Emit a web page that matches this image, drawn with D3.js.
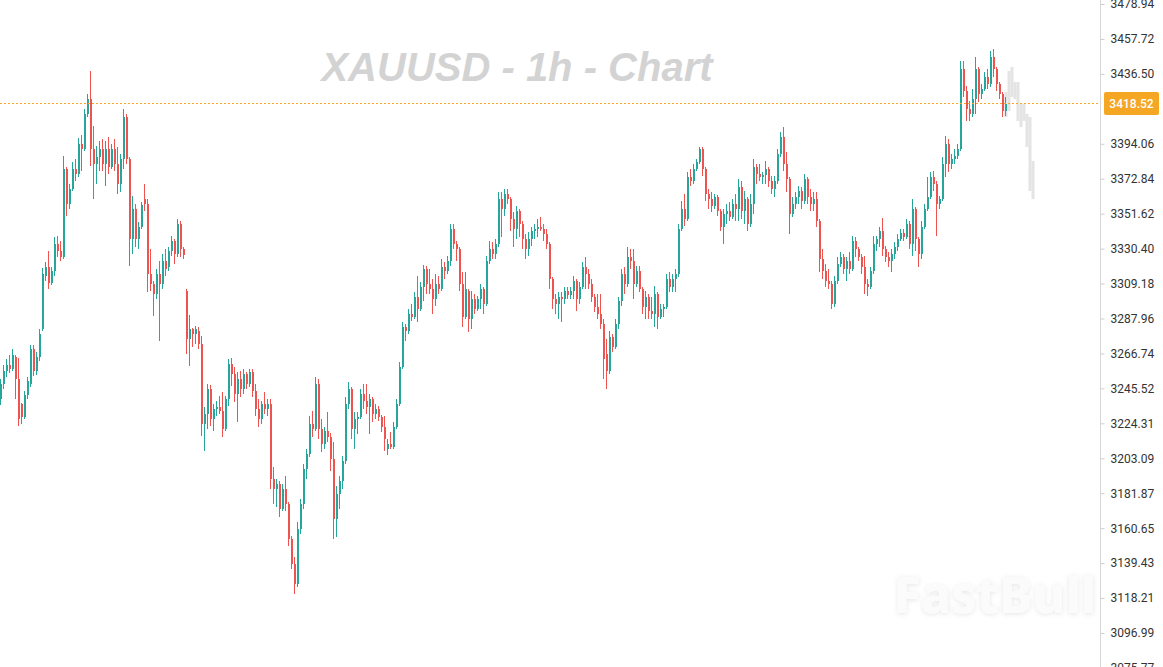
<!DOCTYPE html>
<html><head><meta charset="utf-8">
<script src="https://cdn.jsdelivr.net/npm/d3@7"></script>
<style>html,body{margin:0;padding:0;background:#fff;overflow:hidden}</style>
</head><body>
<svg id="chart" width="1163" height="667"></svg>
<script>
const openP = [3239.0,3248.2,3256.1,3259.7,3257.3,3264.5,3251.2,3236.0,3228.1,3241.5,
3248.2,3269.4,3256.1,3264.5,3281.6,3313.7,3319.2,3309.5,3316.8,3333.2,
3328.9,3325.2,3378.7,3357.5,3366.6,3378.7,3375.7,3394.0,3390.9,3412.2,
3421.2,3390.9,3381.8,3386.0,3390.9,3381.8,3390.9,3379.9,3390.9,3381.8,
3369.7,3384.8,3410.3,3384.8,3336.2,3354.4,3336.2,3343.5,3360.5,3357.5,
3315.0,3308.9,3302.9,3315.0,3308.9,3322.9,3319.2,3328.9,3335.0,3327.1,
3345.4,3330.1,3304.7,3275.5,3281.6,3278.6,3280.4,3272.5,3223.9,3230.0,
3245.1,3226.9,3233.0,3234.2,3231.8,3220.8,3239.0,3260.3,3254.3,3242.1,
3251.2,3245.1,3254.3,3248.2,3255.5,3243.9,3233.0,3226.9,3236.0,3233.0,
3236.0,3190.5,3184.4,3187.5,3172.2,3184.4,3175.3,3154.0,3138.9,3126.7,
3160.1,3175.3,3196.5,3205.7,3223.9,3220.8,3248.2,3220.8,3211.8,3219.6,
3215.9,3202.6,3166.2,3181.4,3189.3,3201.4,3236.0,3245.1,3220.8,3226.9,
3228.1,3242.1,3237.8,3234.2,3239.0,3230.0,3233.0,3228.1,3222.0,3208.7,
3211.8,3209.9,3222.0,3236.0,3258.5,3282.8,3280.4,3290.7,3288.8,3301.0,
3293.7,3307.1,3318.0,3308.9,3305.9,3299.8,3308.9,3305.9,3319.2,3316.8,
3322.9,3342.3,3333.2,3330.1,3308.9,3288.8,3304.7,3287.6,3299.8,3293.7,
3299.8,3305.9,3296.8,3322.9,3330.1,3327.1,3333.2,3360.5,3354.4,3363.6,
3360.5,3348.4,3342.3,3353.2,3345.4,3336.2,3330.1,3336.2,3341.1,3342.3,
3343.5,3342.3,3339.2,3333.2,3311.9,3299.8,3296.8,3301.0,3299.8,3304.7,
3302.3,3304.7,3310.7,3299.8,3307.1,3319.2,3315.0,3308.9,3301.0,3294.9,
3290.7,3284.6,3266.4,3256.1,3276.7,3270.6,3284.6,3298.6,3315.0,3308.9,
3325.2,3322.9,3308.9,3316.8,3305.9,3294.9,3301.0,3292.5,3290.7,3302.9,
3288.8,3293.7,3294.9,3311.9,3307.1,3311.9,3315.0,3342.3,3354.4,3348.4,
3373.9,3371.5,3378.7,3383.0,3390.9,3378.7,3363.6,3360.5,3356.3,3361.7,
3353.2,3343.5,3351.4,3353.2,3349.6,3357.5,3354.4,3367.8,3353.2,3360.5,
3345.4,3357.5,3379.9,3375.7,3373.9,3375.1,3378.7,3371.5,3366.6,3371.5,
3387.9,3398.2,3381.8,3372.7,3351.4,3357.5,3361.7,3365.4,3359.3,3372.7,
3361.7,3357.5,3360.5,3347.2,3324.1,3316.8,3310.7,3308.9,3296.8,3310.7,
3321.0,3325.2,3318.0,3322.9,3318.0,3335.0,3330.1,3325.2,3319.2,3308.9,
3307.1,3316.8,3333.2,3336.2,3341.1,3330.1,3325.2,3322.9,3327.1,3331.3,
3336.2,3339.9,3337.4,3345.4,3333.2,3354.4,3336.2,3327.1,3343.5,3354.4,
3361.7,3373.9,3369.7,3357.5,3360.5,3381.8,3394.0,3381.8,3384.8,3386.6,
3390.9,3439.5,3426.1,3415.2,3412.2,3421.2,3439.5,3424.3,3427.3,3434.6,
3430.4,3446.8,3439.5,3430.4,3424.3,3414.0];

const highP = [3251.2,3259.7,3263.3,3265.8,3269.4,3265.8,3263.9,3236.6,3243.9,3252.4,
3271.9,3271.9,3267.6,3281.6,3318.6,3322.3,3328.9,3319.2,3337.4,3338.0,
3335.0,3386.6,3379.9,3369.7,3383.0,3384.8,3397.5,3399.4,3415.2,3424.3,
3438.3,3404.8,3392.7,3395.8,3397.0,3395.8,3398.1,3394.0,3397.0,3392.1,
3387.9,3415.2,3412.2,3386.0,3362.3,3357.5,3346.6,3358.7,3369.7,3360.5,
3330.1,3310.7,3318.0,3322.9,3327.1,3330.1,3331.3,3338.0,3336.2,3348.4,
3347.2,3331.3,3305.9,3290.1,3282.2,3283.4,3282.8,3277.3,3234.2,3248.2,
3247.6,3236.0,3237.8,3240.9,3243.3,3240.9,3263.3,3264.0,3258.5,3255.5,
3256.1,3257.3,3255.5,3257.3,3257.3,3248.2,3239.0,3237.8,3243.3,3239.0,
3239.0,3197.7,3190.5,3189.3,3187.5,3192.3,3176.5,3155.8,3143.1,3164.4,
3178.3,3199.6,3208.7,3228.7,3231.8,3252.4,3251.2,3226.9,3222.0,3231.2,
3218.4,3213.0,3186.2,3192.3,3204.4,3240.2,3249.4,3246.3,3231.2,3231.2,
3245.1,3248.2,3248.2,3242.1,3240.2,3236.0,3234.8,3229.4,3228.7,3214.8,
3219.0,3225.1,3239.0,3261.5,3285.8,3284.6,3293.7,3296.8,3304.1,3313.7,
3310.1,3320.4,3319.8,3318.0,3311.9,3315.0,3313.7,3324.1,3322.3,3325.9,
3345.4,3345.4,3335.0,3331.3,3316.2,3316.2,3305.9,3304.7,3302.9,3301.6,
3308.9,3307.1,3325.9,3335.0,3334.4,3336.2,3364.8,3364.8,3366.6,3366.6,
3361.7,3352.6,3356.3,3354.4,3347.2,3339.2,3340.5,3343.5,3345.4,3348.4,
3349.6,3345.4,3342.3,3334.4,3313.1,3302.9,3304.1,3304.1,3307.1,3307.1,
3307.1,3313.7,3311.9,3310.1,3322.3,3325.2,3318.0,3311.9,3302.9,3302.9,
3302.9,3287.6,3275.5,3280.4,3278.6,3287.6,3301.0,3318.0,3319.2,3331.3,
3330.1,3330.1,3319.8,3319.8,3307.1,3304.7,3302.9,3301.0,3307.7,3304.1,
3296.8,3296.8,3315.0,3316.2,3315.0,3318.0,3345.4,3359.3,3363.6,3376.9,
3378.7,3381.8,3384.8,3392.1,3392.1,3379.9,3366.6,3364.8,3363.6,3362.9,
3354.4,3354.4,3357.5,3358.7,3360.5,3363.6,3372.7,3371.5,3365.4,3361.7,
3363.6,3384.8,3381.8,3381.8,3376.9,3383.6,3379.9,3374.5,3374.5,3390.9,
3401.2,3404.2,3389.1,3373.9,3361.7,3364.8,3368.5,3367.8,3375.7,3373.9,
3366.6,3364.8,3364.8,3348.4,3330.1,3321.0,3318.0,3310.7,3313.7,3325.2,
3328.3,3327.1,3325.2,3328.3,3338.0,3337.4,3331.3,3327.1,3325.9,3311.9,
3319.2,3338.0,3338.0,3343.5,3349.0,3332.0,3328.3,3330.1,3334.4,3339.2,
3342.3,3342.3,3348.4,3347.2,3360.5,3355.6,3337.4,3347.2,3357.5,3373.9,
3376.9,3377.5,3371.5,3362.3,3386.0,3398.8,3397.0,3387.9,3390.9,3394.0,
3444.3,3444.3,3429.1,3420.0,3427.3,3446.8,3440.7,3430.4,3437.7,3439.5,
3450.4,3451.6,3440.7,3431.6,3425.5,3422.5];

const lowP = [3235.4,3245.1,3252.4,3254.9,3256.1,3239.0,3222.6,3223.9,3226.9,3239.0,
3246.3,3253.0,3253.7,3262.1,3280.4,3310.7,3305.9,3308.3,3313.7,3325.2,
3322.9,3324.1,3350.1,3354.4,3365.4,3371.5,3373.8,3377.5,3389.7,3410.3,
3380.5,3360.5,3369.7,3377.5,3377.5,3368.5,3375.7,3378.7,3377.5,3363.6,
3364.8,3378.7,3381.8,3319.8,3327.1,3331.3,3330.1,3342.3,3353.2,3304.1,
3304.7,3289.4,3299.8,3274.3,3305.9,3313.7,3316.8,3325.9,3321.0,3325.2,
3325.2,3324.1,3266.4,3259.1,3270.6,3272.5,3269.4,3216.6,3207.5,3220.8,
3222.6,3219.6,3228.7,3230.0,3215.9,3219.6,3234.8,3247.0,3237.2,3225.1,
3240.2,3242.1,3245.1,3246.3,3240.2,3228.7,3222.0,3223.9,3230.0,3228.7,
3184.4,3175.3,3173.4,3167.4,3171.0,3171.0,3149.8,3135.8,3120.7,3124.9,
3157.1,3172.2,3190.5,3203.8,3215.9,3219.6,3214.8,3206.9,3208.7,3213.0,
3195.3,3154.0,3155.2,3172.2,3184.4,3199.6,3233.0,3214.8,3208.7,3217.8,
3226.9,3233.0,3230.0,3217.8,3225.1,3226.9,3225.7,3219.0,3207.5,3205.0,
3208.7,3208.7,3220.8,3234.8,3257.3,3274.3,3278.6,3286.4,3287.6,3285.8,
3292.5,3298.6,3302.9,3302.9,3290.7,3295.5,3302.9,3304.7,3311.9,3315.0,
3319.8,3330.1,3322.9,3304.7,3282.8,3287.6,3279.8,3281.6,3290.7,3292.5,
3293.7,3290.7,3295.5,3321.0,3324.1,3324.1,3331.3,3337.4,3350.1,3357.5,
3341.1,3331.3,3336.2,3337.4,3330.1,3324.1,3325.9,3332.0,3336.2,3337.4,
3341.1,3335.0,3330.1,3305.9,3293.7,3290.7,3287.6,3285.8,3296.8,3299.8,
3299.8,3299.8,3292.5,3296.8,3305.9,3305.9,3305.9,3298.0,3291.9,3287.6,
3281.6,3251.2,3245.1,3254.3,3267.6,3269.4,3281.6,3295.5,3302.9,3307.1,
3318.0,3299.8,3307.1,3304.1,3290.7,3287.6,3287.6,3287.6,3282.8,3281.6,
3287.6,3288.8,3293.7,3304.1,3304.1,3304.1,3313.1,3341.1,3344.1,3347.2,
3368.5,3369.7,3377.5,3381.8,3374.5,3359.3,3354.4,3352.6,3354.4,3350.1,
3341.1,3333.2,3345.4,3347.2,3348.4,3347.2,3347.2,3348.4,3345.4,3341.1,
3343.5,3351.4,3369.7,3371.5,3369.7,3369.7,3367.8,3363.6,3361.7,3369.7,
3386.0,3377.5,3364.8,3339.2,3349.6,3354.4,3357.5,3354.4,3357.5,3357.5,
3353.2,3353.2,3343.5,3316.2,3311.9,3307.1,3305.9,3293.7,3294.9,3308.9,
3319.2,3315.0,3310.7,3315.0,3316.8,3325.2,3322.9,3315.0,3302.9,3301.6,
3305.9,3315.0,3328.9,3331.3,3325.9,3322.3,3319.2,3316.2,3324.1,3328.9,
3335.0,3335.0,3336.2,3330.1,3325.9,3328.9,3319.2,3324.1,3342.3,3353.2,
3360.5,3365.4,3338.0,3354.4,3359.3,3373.9,3376.9,3378.7,3381.8,3384.8,
3389.7,3422.5,3407.9,3407.9,3410.3,3412.2,3419.4,3421.2,3426.1,3427.3,
3428.5,3434.6,3426.1,3421.2,3410.3,3411.0];

const closeP = [3248.2,3256.1,3259.7,3257.3,3265.8,3251.2,3226.9,3228.1,3241.5,3250.0,
3269.4,3256.1,3264.5,3278.6,3315.0,3319.2,3309.5,3316.8,3333.2,3328.9,
3325.2,3378.7,3357.5,3366.6,3378.7,3375.7,3394.0,3390.9,3412.2,3421.2,
3390.9,3381.8,3386.0,3390.9,3381.8,3390.9,3379.9,3390.9,3381.8,3369.7,
3384.8,3410.3,3384.8,3336.2,3354.4,3336.2,3343.5,3356.9,3357.5,3315.0,
3308.9,3302.9,3315.0,3308.9,3322.9,3318.0,3328.9,3335.0,3327.1,3345.4,
3330.1,3326.5,3275.5,3281.6,3278.6,3281.6,3272.5,3223.9,3230.0,3245.1,
3226.9,3233.0,3234.2,3231.8,3220.8,3239.0,3260.3,3254.3,3242.1,3251.2,
3245.1,3254.3,3248.2,3255.5,3243.9,3233.0,3226.9,3236.0,3233.0,3236.0,
3190.5,3184.4,3187.5,3172.2,3184.4,3175.3,3154.0,3138.9,3126.7,3160.1,
3175.3,3196.5,3205.7,3223.9,3220.8,3248.2,3220.8,3211.8,3219.6,3215.9,
3202.6,3166.2,3181.4,3189.3,3201.4,3236.0,3245.1,3220.8,3226.9,3228.1,
3242.1,3237.8,3234.2,3239.0,3230.0,3233.0,3228.1,3222.0,3214.8,3211.8,
3209.9,3222.0,3236.0,3258.5,3282.8,3280.4,3290.7,3288.8,3301.0,3293.7,
3307.1,3318.0,3308.9,3305.9,3299.8,3308.9,3305.9,3319.2,3316.8,3322.9,
3342.3,3333.2,3330.1,3308.9,3288.8,3305.9,3287.6,3299.8,3293.7,3299.8,
3305.9,3296.8,3322.9,3330.1,3327.1,3333.2,3360.5,3354.4,3363.6,3360.5,
3348.4,3342.3,3353.2,3345.4,3336.2,3330.1,3336.2,3341.1,3342.3,3343.5,
3342.3,3339.2,3333.2,3311.9,3299.8,3296.8,3301.0,3299.8,3304.7,3302.3,
3304.7,3310.7,3299.8,3307.1,3319.2,3315.0,3308.9,3301.0,3294.9,3290.7,
3284.6,3263.3,3256.1,3276.7,3270.6,3284.6,3298.6,3315.0,3308.9,3325.2,
3322.9,3308.9,3316.8,3305.9,3294.9,3301.0,3292.5,3290.7,3302.9,3288.8,
3293.7,3294.9,3311.9,3307.1,3311.9,3315.0,3342.3,3354.4,3348.4,3373.9,
3371.5,3378.7,3383.0,3390.9,3378.7,3363.6,3360.5,3356.3,3361.7,3353.2,
3343.5,3351.4,3353.2,3349.6,3357.5,3354.4,3367.8,3353.2,3360.5,3345.4,
3357.5,3379.9,3375.7,3373.9,3375.1,3378.7,3371.5,3366.6,3371.5,3387.9,
3398.2,3381.8,3372.7,3351.4,3357.5,3361.7,3365.4,3359.3,3372.7,3361.7,
3357.5,3360.5,3347.2,3324.1,3316.8,3310.7,3308.9,3296.8,3310.7,3321.0,
3325.2,3318.0,3322.9,3318.0,3335.0,3330.1,3325.2,3319.2,3308.9,3307.1,
3316.8,3333.2,3336.2,3341.1,3330.1,3325.2,3322.9,3327.1,3331.3,3336.2,
3339.9,3337.4,3345.4,3333.2,3354.4,3336.2,3327.1,3343.5,3354.4,3361.7,
3373.9,3369.7,3357.5,3360.5,3381.8,3394.0,3381.8,3384.8,3386.6,3390.9,
3439.5,3426.1,3415.2,3412.2,3421.2,3439.5,3424.3,3427.3,3434.6,3430.4,
3446.8,3439.5,3430.4,3424.3,3414.0,3418.52];

const forecastHigh = [3425.5,3438.3,3440.7,3431.6,3431.6,3418.2,3418.2,3412.2,3410.3,3383.6];
const forecastLow  = [3410.3,3414.0,3422.5,3421.2,3407.9,3404.2,3407.9,3392.1,3365.4,3360.5];

// 3415.28 sits under the last-price tag, so it is not labelled
const tickValues = [3478.94,3457.72,3436.50,3394.06,3372.84,3351.62,3330.40,3309.18,3287.96,
3266.74,3245.52,3224.31,3203.09,3181.87,3160.65,3139.43,3118.21,3096.99,3075.77];
const lastPrice = 3418.52;
const titleText = "XAUUSD - 1h - Chart";
const watermark = "FastBull";

const W = 1163, H = 667;
const UP = "#26a69a", DOWN = "#ef5350", ORANGE = "#f5a623";
const svg = d3.select("#chart");

const y = d3.scaleLinear().domain([3096.99, 3478.94]).range([633, 4]);
const nTotal = openP.length + forecastHigh.length - 1;
const x = d3.scaleLinear().domain([0, nTotal]).range([1, 1 + 3 * nTotal]);

const defs = svg.append("defs");
const f = defs.append("filter").attr("id","wm").attr("x","-10%").attr("y","-30%").attr("width","120%").attr("height","160%");
f.append("feDropShadow").attr("dx",0).attr("dy",1).attr("stdDeviation",2.5).attr("flood-color","#000").attr("flood-opacity",0.10);
defs.append("clipPath").attr("id","plot").append("rect").attr("x",0).attr("y",0).attr("width",1100).attr("height",H);

svg.append("text").attr("x", 517).attr("y", 81).attr("text-anchor","middle")
  .style("font-family","'Liberation Sans', Arial, sans-serif").style("font-weight","bold").style("font-style","italic")
  .style("font-size","40px").attr("fill","#d3d3d3").text(titleText);

svg.append("text").attr("x", 995).attr("y", 613).attr("text-anchor","middle")
  .style("font-family","'Noto Sans', Lato, sans-serif").style("font-weight","800")
  .style("font-size","50px").attr("fill","#fbfbfb").attr("filter","url(#wm)").text(watermark);

const plot = svg.append("g").attr("clip-path","url(#plot)");

const fStart = openP.length - 1;
plot.append("g").selectAll("rect").data(forecastHigh).join("rect")
  .attr("x", (d,j) => x(fStart + j) - 1.5).attr("width", 3)
  .attr("y", d => y(d))
  .attr("height", (d,j) => Math.max(1, y(forecastLow[j]) - y(d)))
  .attr("fill", "#e4e4e4");

const yl = Math.round(y(lastPrice)) - 0.5;
svg.append("line").attr("x1",0).attr("x2",1100).attr("y1",yl).attr("y2",yl)
  .attr("stroke",ORANGE).attr("stroke-width",1).attr("stroke-dasharray","2,2")
  .attr("shape-rendering","crispEdges");

const idx = d3.range(openP.length);
const cg = plot.append("g").attr("shape-rendering","crispEdges");
cg.selectAll("rect.w").data(idx).join("rect").attr("class","w")
  .attr("x", i => x(i) - 1).attr("width", 1)
  .attr("y", i => y(highP[i]))
  .attr("height", i => Math.max(1, y(lowP[i]) - y(highP[i])))
  .attr("fill", i => closeP[i] >= openP[i] ? UP : DOWN);
cg.selectAll("rect.b").data(idx).join("rect").attr("class","b")
  .attr("x", i => x(i) - 1).attr("width", 2)
  .attr("y", i => y(Math.max(openP[i], closeP[i])))
  .attr("height", i => Math.max(1, Math.abs(y(openP[i]) - y(closeP[i]))))
  .attr("fill", i => closeP[i] >= openP[i] ? UP : DOWN);

svg.append("line").attr("x1",1100.5).attr("x2",1100.5).attr("y1",0).attr("y2",H)
  .attr("stroke","#d6d6d6").attr("stroke-width",1);
const axis = d3.axisRight(y).tickValues(tickValues).tickFormat(d => d.toFixed(2)).tickSize(4).tickPadding(6);
const ag = svg.append("g").attr("transform","translate(1100.5,0)").call(axis);
ag.select(".domain").remove();
ag.selectAll(".tick line").attr("stroke","#cfcfcf");
ag.selectAll(".tick text").attr("fill","#333").style("font-family","Roboto, 'Noto Sans', sans-serif").style("font-size","12px");

const ty = Math.round(y(lastPrice)) - 0.5;
svg.append("rect").attr("x",1104).attr("y",ty-11.5).attr("width",55).attr("height",23).attr("rx",2).attr("fill",ORANGE);
svg.append("text").attr("x",1131.5).attr("y",ty).attr("dy","0.35em").attr("text-anchor","middle")
  .attr("fill","#fff").style("font-family","Roboto, 'Noto Sans', sans-serif").style("font-size","12px").style("font-weight","500")
  .text(lastPrice.toFixed(2));
</script>
</body></html>
